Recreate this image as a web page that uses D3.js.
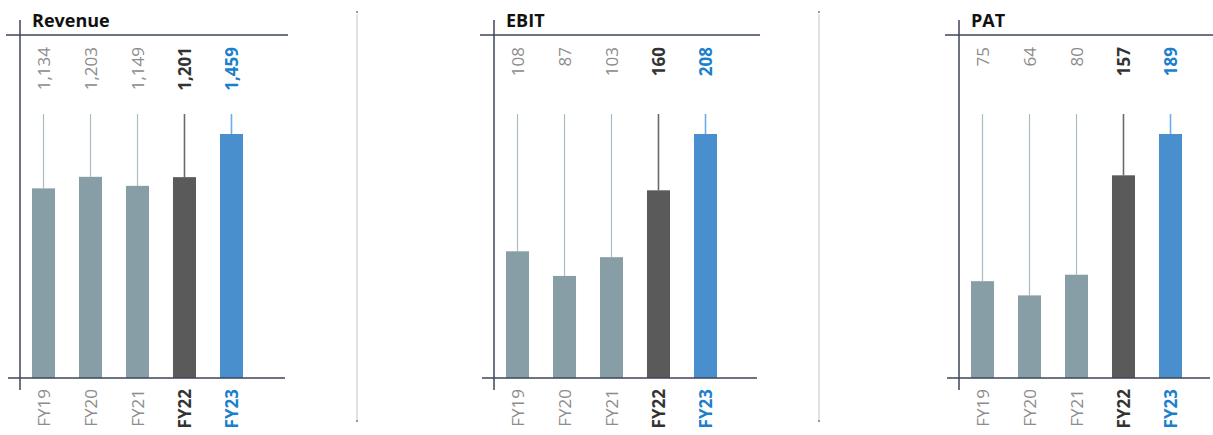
<!DOCTYPE html>
<html lang="en">
<head>
    <meta charset="UTF-8">
    <title>Revenue, EBIT and PAT</title>
    <style>
        body {
            margin: 0;
            background: #fff;
            font-family: 'Open Sans', 'Segoe UI', sans-serif;
        }
        .axis-line { stroke: #3d4459; stroke-width: 1.5; }
        .divider { stroke: #cfcfcf; stroke-width: 1.2; }
    </style>
    <script src="https://d3js.org/d3.v7.min.js"></script>
</head>
<body>
<div id="chart"></div>
<script>
    // data
    var years = ["FY19", "FY20", "FY21", "FY22", "FY23"];
    var panelTitles = ["Revenue", "EBIT", "PAT"];
    var revenue = [1134, 1203, 1149, 1201, 1459];
    var ebit = [108, 87, 103, 160, 208];
    var pat = [75, 64, 80, 157, 189];
    var series = [revenue, ebit, pat];

    var width = 1213, height = 435;
    var baseY = 378;        // x axis line
    var barMaxH = 244;      // height of the biggest bar in each panel
    var stemTop = 114;      // connector lines start here
    var axisX = [20, 494, 959];
    var lineRight = [288, 760, 1213];
    var dividers = [357, 819];

    // bar / text colours by year
    var barColor = ["#879ea6", "#879ea6", "#879ea6", "#5a5a5a", "#4a8fcd"];
    var stemColor = ["#a9bcc6", "#a9bcc6", "#a9bcc6", "#6a6a6a", "#6eaee6"];
    var textColor = ["#8c8c8c", "#8c8c8c", "#8c8c8c", "#333333", "#1b7fcc"];
    var textWeight = [400, 400, 400, 700, 700];

    var svg = d3.select("#chart").append("svg")
        .attr("width", width)
        .attr("height", height);

    // grey divider lines between panels
    dividers.forEach(function(x) {
        svg.append("line").attr("class", "divider")
            .attr("x1", x).attr("x2", x).attr("y1", 14).attr("y2", 421);
        svg.append("rect").attr("x", x - 1).attr("y", 11).attr("width", 2).attr("height", 2).attr("fill", "#999");
        svg.append("rect").attr("x", x - 1).attr("y", 420).attr("width", 2).attr("height", 2).attr("fill", "#999");
    });

    series.forEach(function(values, p) {
        var x0 = axisX[p];
        var g = svg.append("g");

        var x = d3.scaleBand()
            .domain(years)
            .range([x0 + 12, x0 + 12 + 211])
            .paddingInner(0.51)
            .paddingOuter(0);

        var y = d3.scaleLinear()
            .domain([0, d3.max(values)])
            .range([baseY, baseY - barMaxH]);

        var rows = years.map(function(yr, i) { return { year: yr, value: values[i], i: i }; });

        // connector stems
        g.selectAll(".stem").data(rows).enter().append("line")
            .attr("x1", function(d) { return x(d.year) + x.bandwidth() / 2; })
            .attr("x2", function(d) { return x(d.year) + x.bandwidth() / 2; })
            .attr("y1", stemTop)
            .attr("y2", function(d) { return y(d.value); })
            .attr("stroke", function(d) { return stemColor[d.i]; })
            .attr("stroke-width", function(d) { return d.i >= 3 ? 1.6 : 1.2; });

        // bars
        g.selectAll(".bar").data(rows).enter().append("rect")
            .attr("x", function(d) { return x(d.year); })
            .attr("y", function(d) { return y(d.value); })
            .attr("width", x.bandwidth())
            .attr("height", function(d) { return baseY - y(d.value); })
            .attr("fill", function(d) { return barColor[d.i]; });

        // value labels (rotated)
        g.selectAll(".val").data(rows).enter().append("text")
            .attr("transform", function(d) {
                return "translate(" + (x(d.year) + x.bandwidth() / 2) + ",47) rotate(-90)";
            })
            .attr("dy", "0.36em")
            .attr("text-anchor", "end")
            .style("font-size", "17px")
            .style("font-weight", function(d) { return textWeight[d.i]; })
            .style("fill", function(d) { return textColor[d.i]; })
            .text(function(d) { return d3.format(",")(d.value); });

        // year labels (rotated)
        g.selectAll(".yr").data(rows).enter().append("text")
            .attr("transform", function(d) {
                return "translate(" + (x(d.year) + x.bandwidth() / 2) + ",389) rotate(-90)";
            })
            .attr("dy", "0.36em")
            .attr("text-anchor", "end")
            .style("font-size", "17px")
            .style("font-weight", function(d) { return textWeight[d.i]; })
            .style("fill", function(d) { return textColor[d.i]; })
            .text(function(d) { return d.year; });

        // axis frame lines
        g.append("line").attr("class", "axis-line")
            .attr("x1", x0).attr("x2", x0).attr("y1", 20).attr("y2", 390);
        g.append("line").attr("class", "axis-line")
            .attr("x1", x0 - 14).attr("x2", lineRight[p]).attr("y1", 35).attr("y2", 35);
        g.append("line").attr("class", "axis-line")
            .attr("x1", x0 - 12).attr("x2", lineRight[p] - 3).attr("y1", baseY).attr("y2", baseY);

        // panel title
        g.append("text")
            .attr("x", x0 + 12)
            .attr("y", 27)
            .style("font-size", "18px")
            .style("font-weight", 700)
            .style("fill", "#111")
            .text(panelTitles[p]);
    });
</script>
</body>
</html>
